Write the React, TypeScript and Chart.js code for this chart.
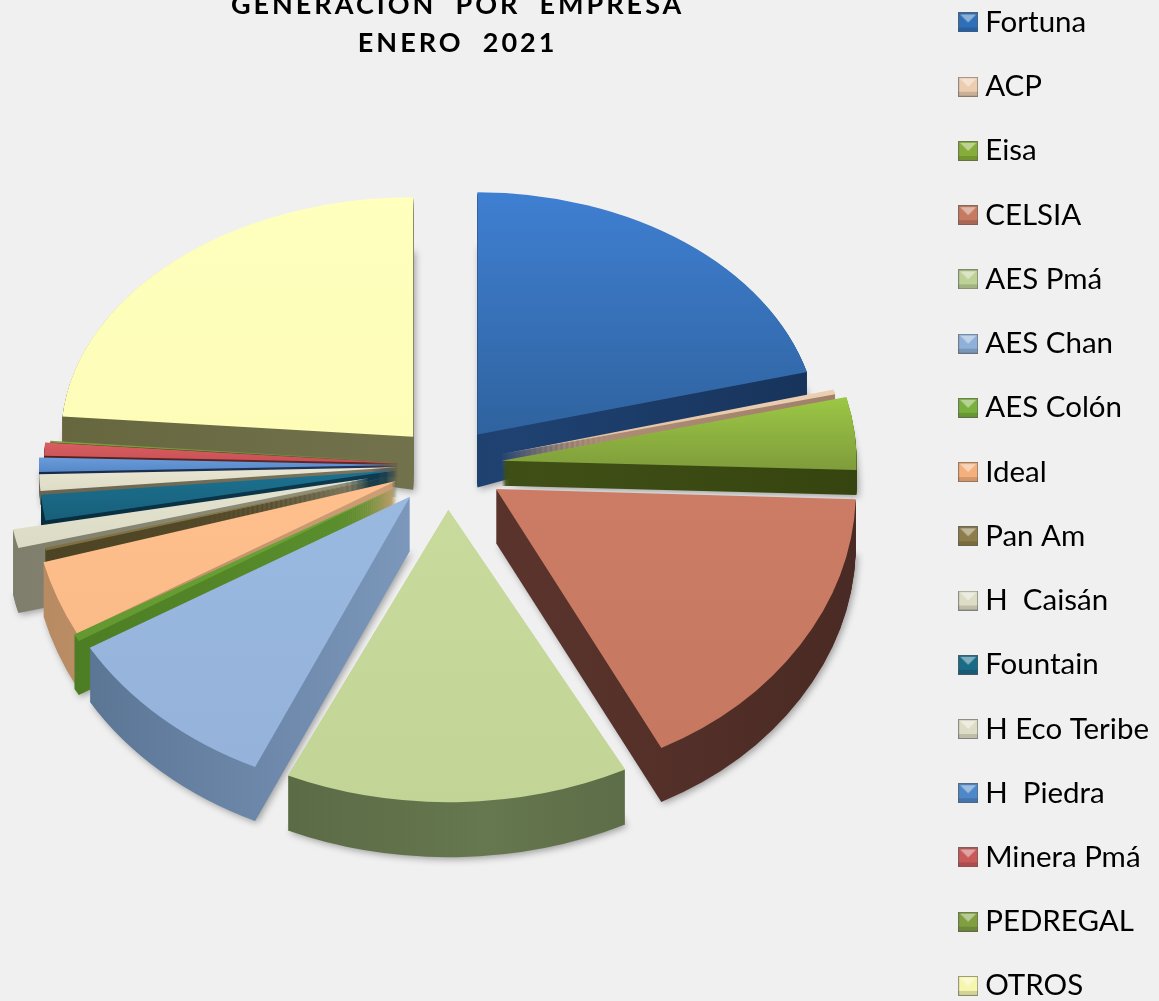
import React, { useEffect, useRef } from "react";
import { Chart, registerables } from "chart.js";

Chart.register(...registerables);

const companies = ["Fortuna", "ACP", "Eisa", "CELSIA", "AES Pmá", "AES Chan", "AES Colón", "Ideal", "Pan Am", "H  Caisán", "Fountain", "H Eco Teribe", "H  Piedra", "Minera Pmá", "PEDREGAL", "OTROS"];
const shares = [20.8, 0.3, 4.4, 16.8, 14.4, 9.65, 0.4, 3.9, 0.15, 1.1, 1.5, 1.0, 0.85, 0.8, 0.1, 23.6];
const titleLines = ["GENERACIÓN  POR  EMPRESA", "ENERO  2021"];

const faceLight = ["#3f7fd2", "#ecd0b4", "#9cc845", "#cc7c64", "#c8da9c", "#9ab9e0", "#6ea638", "#ffc08e", "#8c7d4a", "#e4e3cf", "#1c7290", "#e8e5d2", "#6a9cdc", "#d85e60", "#7f9f40", "#ffffbe"];
const faceDark = ["#2f639f", "#e0bea0", "#7f9c3b", "#c67860", "#c2d496", "#94b2da", "#62982f", "#fbbb88", "#7d6f40", "#dcdbc6", "#175f7a", "#dedbc6", "#5688c8", "#c85054", "#6f8f38", "#fdfdb8"];
const sideLight = ["#1f4272", "#b09078", "#3f4f16", "#5a342c", "#66784f", "#7f9bbf", "#5f9430", "#d0a078", "#5c512e", "#94937f", "#0e3d52", "#7e7862", "#23385c", "#642a2a", "#42541f", "#73734e"];
const sideDark = ["#17335a", "#a08068", "#36450f", "#4a2a24", "#4f5c3c", "#56708f", "#4a7a22", "#b88a62", "#4c4324", "#7f7e6c", "#082c3e", "#6a6450", "#182a48", "#522020", "#36461a", "#66663f"];
const swatch = ["#2f6fb8", "#eccdb0", "#86ad3a", "#c67a62", "#bdd096", "#8fb0d8", "#7ab03e", "#f4b07c", "#8c7d4a", "#dddcc6", "#1a6b86", "#dddcc6", "#4f88c8", "#c85a5a", "#7f9f40", "#f6f6ae"];

const pull = [50, 55, 55, 58, 58, 55, 55, 55, 55, 80, 50, 50, 50, 48, 48, 50];
const reach = [341, 345, 355, 360, 385, 372, 372, 365, 360, 362, 358, 358, 358, 355, 350, 352];
const squash = [0.71, 0.73, 0.75, 0.81, 0.76, 0.8, 0.82, 0.86, 0.8, 0.77, 0.77, 0.75, 0.75, 0.74, 0.72, 0.68];
const depth = [53, 12, 25, 54, 55, 54, 54, 54, 30, 65, 26, 14, 12, 14, 10, 53];
const tilt = [-0.085, 0, 0, 0, 0, 0, 0, 0, 0, 0, 0, 0, 0, 0, 0, 0.075];

const PIE_X = 447;
const PIE_Y = 465;
const SQUASH = 0.77;
const CANVAS_LEFT = -16;
const CANVAS_TOP = -27;

function makeSwatch(color: string) {
  const c = document.createElement("canvas");
  c.width = 20;
  c.height = 20;
  const g = c.getContext("2d")!;
  g.fillStyle = color;
  g.fillRect(0, 0, 20, 20);
  g.fillStyle = "rgba(255,255,255,0.45)";
  g.beginPath();
  g.moveTo(2, 2);
  g.lineTo(18, 2);
  g.lineTo(10, 10);
  g.closePath();
  g.fill();
  g.fillStyle = "rgba(0,0,0,0.14)";
  g.fillRect(0, 15, 20, 5);
  g.strokeStyle = "rgba(90,90,90,0.6)";
  g.lineWidth = 1;
  g.strokeRect(0.5, 0.5, 19, 19);
  return c;
}

const slabPlugin = {
  id: "slab",
  afterLayout(chart: any) {
    const t = chart.titleBlock;
    if (t && !t.__spaced) {
      const d = t.draw;
      t.draw = function () {
        const ctx: any = chart.ctx;
        ctx.letterSpacing = "3px";
        d.call(t);
        ctx.letterSpacing = "0px";
      };
      t.__spaced = true;
    }
  },
  beforeDatasetsDraw(chart: any) {
    const ctx = chart.ctx;
    const arcs: any[] = chart.getDatasetMeta(0).data;
    const order = arcs
      .map((a, i) => ({ a, i, mid: (a.startAngle + a.endAngle) / 2 }))
      .sort((p, q) => Math.sin(p.mid) - Math.sin(q.mid));
    for (const { a, i, mid } of order) {
      const base = a.options;
      const baseR = a.outerRadius;
      a.outerRadius = reach[i];
      const cx = PIE_X - CANVAS_LEFT + Math.cos(mid) * pull[i];
      const cy = PIE_Y - CANVAS_TOP + Math.sin(mid) * pull[i] * SQUASH;
      const ys = [0, Math.sin(a.startAngle) * reach[i], Math.sin(a.endAngle) * reach[i]];
      if (a.startAngle < Math.PI / 2 && a.endAngle > Math.PI / 2) ys.push(reach[i]);
      if (a.startAngle < -Math.PI / 2 + 1e-6) ys.push(-reach[i]);
      const y0 = a.y + Math.min(...ys);
      const y1 = a.y + Math.max(...ys);
      const sy = squash[i];
      const place = (k: number) => {
        // k: fraction of the slab's height below the face
        ctx.setTransform(1, tilt[i] * k, 0, sy, cx - a.x, cy + depth[i] * k - a.y * sy - tilt[i] * k * a.x);
      };
      // side wall
      for (let d = depth[i]; d >= 1; d--) {
        ctx.save();
        place(d / depth[i]);
        if (d === depth[i]) {
          ctx.shadowColor = "rgba(0,0,0,0.35)";
          ctx.shadowBlur = 7;
          ctx.shadowOffsetX = 2;
          ctx.shadowOffsetY = 2;
        }
        const g = ctx.createLinearGradient(a.x - reach[i], 0, a.x + reach[i], 0);
        g.addColorStop(0, sideDark[i]);
        g.addColorStop(0.55, sideLight[i]);
        g.addColorStop(1, sideDark[i]);
        const o = Object.create(base);
        o.backgroundColor = g;
        a.options = o;
        a.draw(ctx);
        ctx.restore();
      }
      // top face
      ctx.save();
      place(0);
      const g = ctx.createLinearGradient(0, y0, 0, y1);
      g.addColorStop(0, faceLight[i]);
      g.addColorStop(1, faceDark[i]);
      const o = Object.create(base);
      o.backgroundColor = g;
      a.options = o;
      a.draw(ctx);
      ctx.restore();
      a.options = base;
      a.outerRadius = baseR;
    }
    ctx.setTransform(1, 0, 0, 1, 0, 0);
    return false;
  },
};

export default function App() {
  const ref = useRef<HTMLCanvasElement>(null);
  useEffect(() => {
    document.body.style.margin = "0";
    document.body.style.background = "#f0f0f0";
    document.documentElement.style.background = "#f0f0f0";
    const icons = swatch.map(makeSwatch);
    const chart = new Chart(ref.current!, {
      type: "pie",
      data: {
        labels: companies,
        datasets: [{ data: shares, backgroundColor: swatch, borderWidth: 0 }],
      },
      plugins: [slabPlugin],
      options: {
        animation: false,
        responsive: false,
        devicePixelRatio: 1,
        rotation: 0,
        layout: { padding: 0 },
        plugins: {
          tooltip: { enabled: false },
          title: {
            display: true,
            text: titleLines,
            fullSize: false,
            color: "#000000",
            font: { family: "Lato", size: 27, weight: "bold", lineHeight: 1.41 },
            padding: { top: 13, bottom: 0 },
          },
          legend: {
            position: "right",
            align: "start",
            labels: {
              color: "#000000",
              font: { family: "Lato", size: 29.5, lineHeight: 1.2 },
              padding: 34.73,
              usePointStyle: true,
              pointStyleWidth: 4.5,
              generateLabels(c: any) {
                return Chart.overrides.pie.plugins.legend.labels
                  .generateLabels(c)
                  .map((l: any, i: number) => ({ ...l, pointStyle: icons[i] }));
              },
            },
          },
        },
      } as any,
    });
    return () => chart.destroy();
  }, []);
  return (
    <div style={{ position: "fixed", left: 0, top: 0, width: 1159, height: 1001, overflow: "hidden", background: "#f0f0f0" }}>
      <canvas ref={ref} width={1175} height={1090} style={{ position: "absolute", left: CANVAS_LEFT, top: CANVAS_TOP, width: 1175, height: 1090 }} />
    </div>
  );
}
